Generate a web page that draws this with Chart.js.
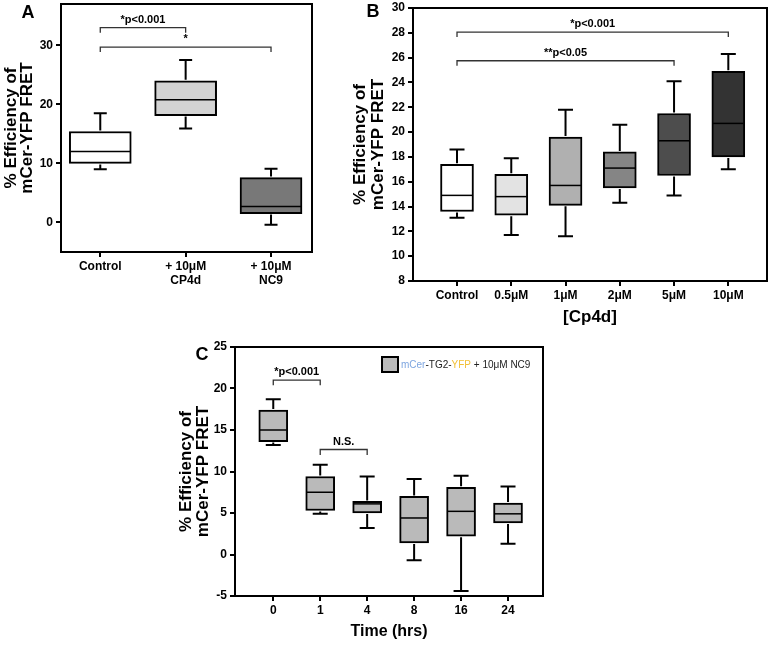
<!DOCTYPE html>
<html>
<head>
<meta charset="utf-8">
<script src="https://cdn.jsdelivr.net/npm/chart.js@4/dist/chart.umd.min.js"></script>
<style>
  body { margin: 0; background: #fff; width: 775px; height: 645px; position: relative; overflow: hidden; }
  .panel { position: absolute; }
</style>
</head>
<body>
<div class="panel" style="left:0;top:0"><canvas id="chartA" width="330" height="300"></canvas></div>
<div class="panel" style="left:330px;top:0"><canvas id="chartB" width="445" height="330"></canvas></div>
<div class="panel" style="left:170px;top:330px"><canvas id="chartC" width="400" height="315"></canvas></div>
<script>
// Panel A
const catsA = [['Control'], ['+ 10\u03bcM', 'CP4d'], ['+ 10\u03bcM', 'NC9']];
const minA = [9.0, 15.9, -0.4];
const q1A = [10.0, 18.1, 1.5];
const medA = [12.0, 20.8, 2.7];
const q3A = [15.4, 24.0, 7.6];
const maxA = [18.5, 27.5, 9.1];
const colorsA = ['#ffffff', '#d3d3d3', '#787878'];
const ticksA = [0, 10, 20, 30];
const bracketsA = [
    { from: 0, to: 1, y: 33.0, drop: 0.85, label: '*p<0.001' },
    { from: 0, to: 2, y: 29.7, drop: 0.85, label: '*' }
];

// Panel B
const catsB = ['Control', '0.5\u03bcM', '1\u03bcM', '2\u03bcM', '5\u03bcM', '10\u03bcM'];
const minB = [13.1, 11.7, 11.6, 14.3, 14.9, 17.0];
const q1B = [13.6, 13.3, 14.1, 15.5, 16.5, 18.0];
const medB = [14.9, 14.8, 15.7, 17.1, 19.3, 20.7];
const q3B = [17.4, 16.6, 19.6, 18.4, 21.5, 24.9];
const maxB = [18.6, 17.9, 21.8, 20.6, 24.1, 26.3];
const colorsB = ['#ffffff', '#e3e3e3', '#b0b0b0', '#858585', '#4d4d4d', '#333333'];
const ticksB = [8, 10, 12, 14, 16, 18, 20, 22, 24, 26, 28, 30];
const bracketsB = [
    { from: 0, to: 5, y: 28.05, drop: 0.38, label: '*p<0.001' },
    { from: 0, to: 4, y: 25.75, drop: 0.4, label: '**p<0.05' }
];

// Panel C
const catsC = ['0', '1', '4', '8', '16', '24'];
const minC = [13.2, 4.9, 3.2, -0.7, -4.4, 1.3];
const q1C = [13.6, 5.3, 5.0, 1.4, 2.2, 3.8];
const medC = [15.0, 7.5, 6.1, 4.4, 5.2, 4.9];
const q3C = [17.4, 9.4, 6.4, 7.0, 8.1, 6.2];
const maxC = [18.7, 10.8, 9.4, 9.1, 9.5, 8.2];
const colorC = '#bababa';
const ticksC = [-5, 0, 5, 10, 15, 20, 25];
const bracketsC = [
    { from: 0, to: 1, y: 21.0, drop: 0.6, label: '*p<0.001' },
    { from: 1, to: 2, y: 12.65, drop: 0.65, label: 'N.S.' }
];

const FONT = '"Liberation Sans", Arial, Helvetica, sans-serif';
Chart.defaults.font.family = FONT;
Chart.defaults.color = '#000';

function boxPlugin(stats) {
    return {
        id: 'boxes',
        afterDatasetsDraw(chart) {
            const { ctx, scales: { x, y } } = chart;
            ctx.save();
            ctx.strokeStyle = '#000';
            stats.med.forEach((m, i) => {
                const cx = x.getPixelForValue(i);
                const cw = stats.cap / 2;
                const hw = stats.box / 2 - 1;
                const yMax = y.getPixelForValue(stats.max[i]);
                const yMin = y.getPixelForValue(stats.min[i]);
                ctx.lineWidth = 2;
                ctx.beginPath();
                ctx.moveTo(cx, y.getPixelForValue(stats.q3[i]) - 1);
                ctx.lineTo(cx, yMax);
                ctx.moveTo(cx - cw, yMax);
                ctx.lineTo(cx + cw, yMax);
                ctx.moveTo(cx, y.getPixelForValue(stats.q1[i]) + 1);
                ctx.lineTo(cx, yMin);
                ctx.moveTo(cx - cw, yMin);
                ctx.lineTo(cx + cw, yMin);
                ctx.stroke();
                ctx.lineWidth = 1.5;
                ctx.beginPath();
                const ym = y.getPixelForValue(m);
                ctx.moveTo(cx - hw, ym);
                ctx.lineTo(cx + hw, ym);
                ctx.stroke();
            });
            ctx.restore();
        },
        afterDraw(chart) {
            const { ctx, chartArea: a, scales: { x, y } } = chart;
            ctx.save();
            ctx.strokeStyle = '#000';
            ctx.lineWidth = 2;
            ctx.strokeRect(a.left, a.top, a.right - a.left, a.bottom - a.top);

            stats.brackets.forEach(b => {
                const x1 = x.getPixelForValue(b.from), x2 = x.getPixelForValue(b.to);
                const yy = y.getPixelForValue(b.y), yd = y.getPixelForValue(b.y - b.drop);
                ctx.strokeStyle = '#333';
                ctx.lineWidth = 1.3;
                ctx.beginPath();
                ctx.moveTo(x1, yd);
                ctx.lineTo(x1, yy);
                ctx.lineTo(x2, yy);
                ctx.lineTo(x2, yd);
                ctx.stroke();
                ctx.fillStyle = '#000';
                ctx.font = 'bold 11px ' + FONT;
                ctx.textAlign = 'center';
                ctx.textBaseline = 'middle';
                ctx.fillText(b.label, (x1 + x2) / 2, yy - 8);
            });

            ctx.fillStyle = '#000';
            ctx.font = 'bold 18px ' + FONT;
            ctx.textAlign = 'center';
            ctx.textBaseline = 'middle';
            ctx.fillText(stats.letter[0], stats.letter[1], stats.letter[2]);

            if (stats.legend) {
                const lg = stats.legend;
                ctx.fillStyle = chart.data.datasets[0].backgroundColor;
                ctx.fillRect(lg.x, lg.y, 16, 15);
                ctx.strokeStyle = '#000';
                ctx.lineWidth = 2;
                ctx.strokeRect(lg.x, lg.y, 16, 15);
                ctx.font = '10px ' + FONT;
                ctx.textAlign = 'left';
                let tx = lg.x + 19;
                lg.parts.forEach(([t, c]) => {
                    ctx.fillStyle = c;
                    ctx.fillText(t, tx, lg.y + 8);
                    tx += ctx.measureText(t).width;
                });
            }
            ctx.restore();
        }
    };
}

function makeChart(id, cfg) {
    return new Chart(document.getElementById(id), {
        type: 'bar',
        data: {
            datasets: [{
                data: cfg.q1.map((v, i) => ({ x: i, y: [v, cfg.q3[i]] })),
                backgroundColor: cfg.colors,
                borderColor: '#000',
                borderWidth: 2,
                borderSkipped: false,
                barThickness: cfg.box
            }]
        },
        options: {
            responsive: false,
            animation: false,
            events: [],
            layout: { padding: cfg.padding },
            plugins: { legend: { display: false }, tooltip: { enabled: false } },
            scales: {
                x: {
                    type: 'linear',
                    min: cfg.xMin,
                    max: cfg.xMax,
                    offset: false,
                    afterBuildTicks: s => { s.ticks = cfg.cats.map((c, i) => ({ value: i })); },
                    afterFit: s => { s.height = cfg.xHeight; s.paddingLeft = 0; s.paddingRight = 0; },
                    ticks: {
                        autoSkip: false,
                        maxRotation: 0,
                        padding: 2,
                        font: { size: 12, weight: 'bold' },
                        color: '#000',
                        callback: v => cfg.cats[v]
                    },
                    grid: { display: true, drawOnChartArea: false, offset: false, color: '#000', lineWidth: 2, tickLength: 5 },
                    border: { display: false },
                    title: cfg.xTitle ? {
                        display: true,
                        text: cfg.xTitle,
                        color: '#000',
                        font: { size: cfg.xTitleSize, weight: 'bold' },
                        padding: { top: 0, bottom: cfg.xTitlePad }
                    } : { display: false }
                },
                y: {
                    min: cfg.yMin,
                    max: cfg.yMax,
                    afterBuildTicks: s => { s.ticks = cfg.yTicks.map(v => ({ value: v })); },
                    afterFit: s => { s.width = cfg.yWidth; s.paddingTop = 0; s.paddingBottom = 0; },
                    ticks: { padding: 3, font: { size: 12, weight: 'bold' }, color: '#000' },
                    grid: { display: true, drawOnChartArea: false, color: '#000', lineWidth: 2, tickLength: 5 },
                    border: { display: false },
                    title: {
                        display: true,
                        text: ['% Efficiency of', 'mCer-YFP FRET'],
                        color: '#000',
                        font: { size: 17, weight: 'bold', lineHeight: cfg.yTitleLH },
                        padding: { top: cfg.yTitlePad, bottom: 0 }
                    }
                }
            }
        },
        plugins: [boxPlugin({
            min: cfg.min, q1: cfg.q1, med: cfg.med, q3: cfg.q3, max: cfg.max,
            box: cfg.box, cap: cfg.cap, brackets: cfg.brackets,
            letter: cfg.letter, legend: cfg.legend
        })]
    });
}

makeChart('chartA', {
    cats: catsA, min: minA, q1: q1A, med: medA, q3: q3A, max: maxA, colors: colorsA,
    yTicks: ticksA, brackets: bracketsA,
    xMin: -0.46, xMax: 2.48, yMin: -5, yMax: 37,
    padding: { left: 0, top: 4, right: 18, bottom: 0 },
    yWidth: 61, xHeight: 48, box: 62, cap: 13,
    yTitleLH: 0.94, yTitlePad: 3,
    letter: ['A', 28, 13]
});

makeChart('chartB', {
    cats: catsB, min: minB, q1: q1B, med: medB, q3: q3B, max: maxB, colors: colorsB,
    yTicks: ticksB, brackets: bracketsB,
    xMin: -0.811, xMax: 5.713, yMin: 8, yMax: 30,
    padding: { left: 0, top: 8, right: 8, bottom: 0 },
    yWidth: 83, xHeight: 49, box: 33, cap: 15,
    xTitle: '[Cp4d]', xTitleSize: 17, xTitlePad: 2,
    yTitleLH: 1.08, yTitlePad: 21,
    letter: ['B', 43, 12]
});

makeChart('chartC', {
    cats: catsC, min: minC, q1: q1C, med: medC, q3: q3C, max: maxC, colors: colorC,
    yTicks: ticksC, brackets: bracketsC,
    xMin: -0.815, xMax: 5.745, yMin: -5, yMax: 25,
    padding: { left: 0, top: 17, right: 27, bottom: 0 },
    yWidth: 65, xHeight: 49, box: 29, cap: 15,
    xTitle: 'Time (hrs)', xTitleSize: 16, xTitlePad: 4,
    yTitleLH: 1.0, yTitlePad: 8,
    letter: ['C', 32, 25],
    legend: {
        x: 212, y: 27,
        parts: [['mCer', '#7ea6e0'], ['-TG2-', '#222'], ['YFP', '#f2c037'], [' + 10\u03bcM NC9', '#222']]
    }
});
</script>
</body>
</html>
